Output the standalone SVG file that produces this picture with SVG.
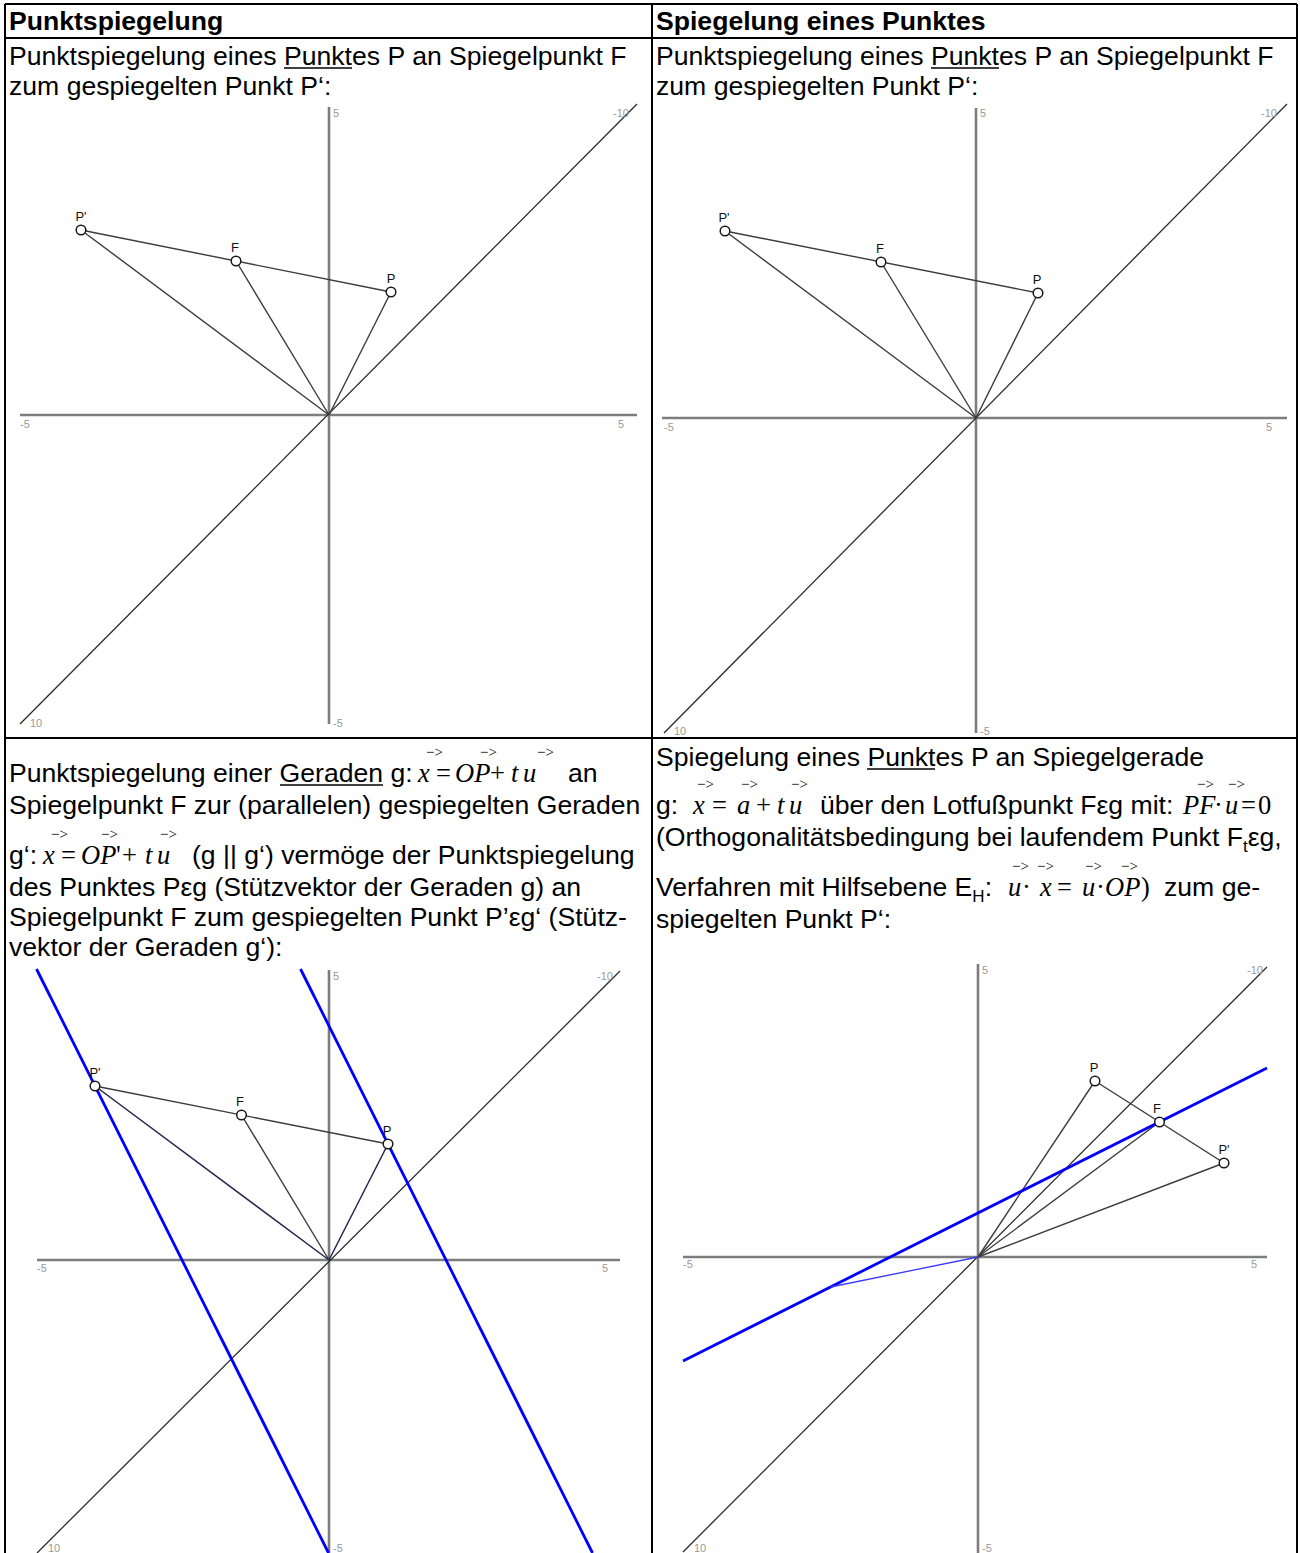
<svg xmlns="http://www.w3.org/2000/svg" width="1300" height="1553" viewBox="0 0 1300 1553">
<style>
.t{font-family:"Liberation Sans",Arial,sans-serif;font-size:26.6px;fill:#000}
.b{font-weight:bold}
.m{font-family:"Liberation Serif","Times New Roman",serif;font-size:26.5px;fill:#000}
.i{font-style:italic}
.ar{font-family:"Liberation Serif","Times New Roman",serif;font-size:15px;fill:#000}
.sub{font-size:17px}
.ul{stroke:#000;stroke-width:1.6}
.border{stroke:#000;stroke-width:2;fill:none}
.axis{stroke:#7d7d7d;stroke-width:2.6}
.diag{stroke:#2a2a2a;stroke-width:1.3}
.seg{stroke:#3c3c3c;stroke-width:1.4}
.navy{stroke:#262650;stroke-width:1.5}
.blue{stroke:#0000ff;stroke-width:2.8}
.thinblue{stroke:#3a3aff;stroke-width:1.3}
.pt{fill:#fff;stroke:#1a1a1a;stroke-width:1.5}
.lbl{font-family:"Liberation Sans",Arial,sans-serif;font-size:13px;fill:#111;text-anchor:middle}
.tk{font-family:"Liberation Sans",Arial,sans-serif;font-size:11px;fill:#999}
</style>
<rect width="1300" height="1553" fill="#fff"/>

<g id="table">
<line class="border" x1="5" y1="4" x2="1297" y2="4"/>
<line class="border" x1="5" y1="4" x2="5" y2="1553"/>
<line class="border" x1="1297" y1="4" x2="1297" y2="1553"/>
<line class="border" x1="652" y1="4" x2="652" y2="1553"/>
<line class="border" x1="5" y1="38" x2="1297" y2="38"/>
<line class="border" x1="5" y1="738" x2="1297" y2="738"/>
</g>

<g id="text-tl">
<text class="t b" x="9" y="30">Punktspiegelung</text>
<text class="t" x="9" y="65">Punktspiegelung eines Punktes P an Spiegelpunkt F</text>
<line class="ul" x1="284" y1="68" x2="352" y2="68"/>
<text class="t" x="9" y="95">zum gespiegelten Punkt P‘:</text>
</g>

<g id="text-tr">
<text class="t b" x="656" y="30">Spiegelung eines Punktes</text>
<text class="t" x="656" y="65">Punktspiegelung eines Punktes P an Spiegelpunkt F</text>
<line class="ul" x1="931" y1="68" x2="999" y2="68"/>
<text class="t" x="656" y="95">zum gespiegelten Punkt P‘:</text>
</g>

<g id="text-bl">
<text class="t" x="9" y="782">Punktspiegelung einer Geraden g:</text>
<line class="ul" x1="280" y1="785" x2="383" y2="785"/>
<text class="ar" y="757"><tspan x="426">−&gt;</tspan><tspan x="480">−&gt;</tspan><tspan x="537">−&gt;</tspan></text>
<text class="m" y="782"><tspan class="i" x="418">x</tspan><tspan x="436">=</tspan><tspan class="i" x="455">OP</tspan><tspan x="490">+</tspan><tspan class="i" x="511">t</tspan><tspan class="i" x="523">u</tspan></text>
<text class="t" x="568" y="782">an</text>
<text class="t" x="9" y="814">Spiegelpunkt F zur (parallelen) gespiegelten Geraden</text>
<text class="t" x="9" y="864">g‘:</text>
<text class="ar" y="839"><tspan x="51">−&gt;</tspan><tspan x="101">−&gt;</tspan><tspan x="160">−&gt;</tspan></text>
<text class="m" y="864"><tspan class="i" x="43">x</tspan><tspan x="61">=</tspan><tspan class="i" x="81">OP</tspan><tspan x="116">'</tspan><tspan x="122">+</tspan><tspan class="i" x="145">t</tspan><tspan class="i" x="157">u</tspan></text>
<text class="t" x="192" y="864">(g || g‘) vermöge der Punktspiegelung</text>
<text class="t" x="9" y="896">des Punktes Pεg (Stützvektor der Geraden g) an</text>
<text class="t" x="9" y="926">Spiegelpunkt F zum gespiegelten Punkt P’εg‘ (Stütz-</text>
<text class="t" x="9" y="956">vektor der Geraden g‘):</text>
</g>

<g id="text-br">
<text class="t" x="656" y="766">Spiegelung eines Punktes P an Spiegelgerade</text>
<line class="ul" x1="867" y1="769" x2="935" y2="769"/>
<text class="t" x="656" y="814">g:</text>
<text class="ar" y="789"><tspan x="697">−&gt;</tspan><tspan x="741">−&gt;</tspan><tspan x="791">−&gt;</tspan><tspan x="1197">−&gt;</tspan><tspan x="1228">−&gt;</tspan></text>
<text class="m" y="814"><tspan class="i" x="693">x</tspan><tspan x="712">=</tspan><tspan class="i" x="737">a</tspan><tspan x="756">+</tspan><tspan class="i" x="777">t</tspan><tspan class="i" x="789">u</tspan></text>
<text class="t" x="820" y="814">über den Lotfußpunkt Fεg mit:</text>
<text class="m" y="814"><tspan class="i" x="1183">PF</tspan><tspan x="1214">·</tspan><tspan class="i" x="1225">u</tspan><tspan x="1241">=</tspan><tspan x="1258">0</tspan></text>
<text class="t" x="656" y="846">(Orthogonalitätsbedingung bei laufendem Punkt F<tspan class="sub" dy="6">t</tspan><tspan dy="-6">εg,</tspan></text>
<text class="t" x="656" y="896">Verfahren mit Hilfsebene E<tspan class="sub" dy="6">H</tspan><tspan dy="-6">:</tspan></text>
<text class="ar" y="871"><tspan x="1012">−&gt;</tspan><tspan x="1037">−&gt;</tspan><tspan x="1085">−&gt;</tspan><tspan x="1121">−&gt;</tspan></text>
<text class="m" y="896"><tspan class="i" x="1008">u</tspan><tspan x="1022">·</tspan><tspan class="i" x="1040">x</tspan><tspan x="1057">=</tspan><tspan class="i" x="1082">u</tspan><tspan x="1096">·</tspan><tspan class="i" x="1105">OP</tspan><tspan x="1141">)</tspan></text>
<text class="t" x="1164" y="896">zum ge-</text>
<text class="t" x="656" y="928">spiegelten Punkt P‘:</text>
</g>

<!-- Graph top-left -->
<g id="graph-tl">
<line class="axis" x1="329" y1="107" x2="329" y2="724"/>
<line class="axis" x1="20" y1="415" x2="637" y2="415"/>
<line class="diag" x1="20" y1="724" x2="637" y2="104"/>
<text class="tk" x="333" y="117">5</text>
<text class="tk" x="613" y="117">-10</text>
<text class="tk" x="20" y="428">-5</text>
<text class="tk" x="618" y="428">5</text>
<text class="tk" x="30" y="727">10</text>
<text class="tk" x="333" y="727">-5</text>
<g id="tl-connectors">
<line class="seg" x1="81" y1="230" x2="391" y2="292"/>
<line class="seg" x1="329" y1="415" x2="81" y2="230"/>
<line class="seg" x1="329" y1="415" x2="236" y2="261"/>
<line class="seg" x1="329" y1="415" x2="391" y2="292"/>
</g>
<g id="tl-Pp"><circle class="pt" cx="81" cy="230" r="4.8"/><text class="lbl" x="81" y="221">P'</text></g>
<g id="tl-F"><circle class="pt" cx="236" cy="261" r="4.8"/><text class="lbl" x="235" y="252">F</text></g>
<g id="tl-P"><circle class="pt" cx="391" cy="292" r="4.8"/><text class="lbl" x="391" y="283">P</text></g>
</g>

<!-- Graph top-right -->
<g id="graph-tr">
<line class="axis" x1="976" y1="108" x2="976" y2="733"/>
<line class="axis" x1="662" y1="418" x2="1287" y2="418"/>
<line class="diag" x1="664" y1="733" x2="1287" y2="104"/>
<text class="tk" x="980" y="117">5</text>
<text class="tk" x="1261" y="117">-10</text>
<text class="tk" x="664" y="431">-5</text>
<text class="tk" x="1266" y="431">5</text>
<text class="tk" x="674" y="735">10</text>
<text class="tk" x="980" y="735">-5</text>
<g id="tr-connectors">
<line class="seg" x1="725" y1="231" x2="1038" y2="293"/>
<line class="seg" x1="976" y1="418" x2="725" y2="231"/>
<line class="seg" x1="976" y1="418" x2="881" y2="262"/>
<line class="seg" x1="976" y1="418" x2="1038" y2="293"/>
</g>
<g id="tr-Pp"><circle class="pt" cx="725" cy="231" r="4.8"/><text class="lbl" x="724" y="222">P'</text></g>
<g id="tr-F"><circle class="pt" cx="881" cy="262" r="4.8"/><text class="lbl" x="880" y="253">F</text></g>
<g id="tr-P"><circle class="pt" cx="1038" cy="293" r="4.8"/><text class="lbl" x="1037" y="284">P</text></g>
</g>

<!-- Graph bottom-left -->
<g id="graph-bl">
<line class="axis" x1="329" y1="970" x2="329" y2="1553"/>
<line class="axis" x1="37" y1="1260" x2="620" y2="1260"/>
<line class="diag" x1="37" y1="1553" x2="620" y2="971"/>
<text class="tk" x="333" y="980">5</text>
<text class="tk" x="597" y="980">-10</text>
<text class="tk" x="37" y="1272">-5</text>
<text class="tk" x="602" y="1272">5</text>
<text class="tk" x="48" y="1552">10</text>
<text class="tk" x="333" y="1552">-5</text>
<g id="bl-connectors">
<line class="blue" x1="36.5" y1="969" x2="328.5" y2="1553"/>
<line class="blue" x1="300.5" y1="969" x2="592.5" y2="1553"/>
<line class="seg" x1="95" y1="1086" x2="388" y2="1144"/>
<line class="seg" x1="329" y1="1260" x2="241.5" y2="1115"/>
<line class="navy" x1="329" y1="1260" x2="95" y2="1086"/>
<line class="navy" x1="329" y1="1260" x2="388" y2="1144"/>
</g>
<g id="bl-Pp"><circle class="pt" cx="95" cy="1086" r="4.8"/><text class="lbl" x="95" y="1077">P'</text></g>
<g id="bl-F"><circle class="pt" cx="241.5" cy="1115" r="4.8"/><text class="lbl" x="240" y="1106">F</text></g>
<g id="bl-P"><circle class="pt" cx="388" cy="1144" r="4.8"/><text class="lbl" x="387" y="1135">P</text></g>
</g>

<!-- Graph bottom-right -->
<g id="graph-br">
<line class="axis" x1="978" y1="964" x2="978" y2="1553"/>
<line class="axis" x1="683" y1="1257" x2="1267" y2="1257"/>
<line class="diag" x1="683" y1="1552" x2="1267" y2="967"/>
<text class="tk" x="982" y="974">5</text>
<text class="tk" x="1247" y="974">-10</text>
<text class="tk" x="683" y="1268">-5</text>
<text class="tk" x="1251" y="1268">5</text>
<text class="tk" x="694" y="1552">10</text>
<text class="tk" x="982" y="1552">-5</text>
<g id="br-connectors">
<line class="seg" x1="978" y1="1257" x2="1095" y2="1081"/>
<line class="seg" x1="978" y1="1257" x2="1159.5" y2="1122"/>
<line class="seg" x1="978" y1="1257" x2="1224" y2="1163"/>
<line class="seg" x1="1095" y1="1081" x2="1224" y2="1163"/>
<line class="blue" x1="683" y1="1361" x2="1267" y2="1068"/>
<line class="thinblue" x1="978" y1="1257" x2="830.5" y2="1287"/>
</g>
<g id="br-P"><circle class="pt" cx="1095" cy="1081" r="4.8"/><text class="lbl" x="1094" y="1072">P</text></g>
<g id="br-F"><circle class="pt" cx="1159.5" cy="1122" r="4.8"/><text class="lbl" x="1157" y="1113">F</text></g>
<g id="br-Pp"><circle class="pt" cx="1224" cy="1163" r="4.8"/><text class="lbl" x="1224" y="1154">P'</text></g>
</g>
</svg>
